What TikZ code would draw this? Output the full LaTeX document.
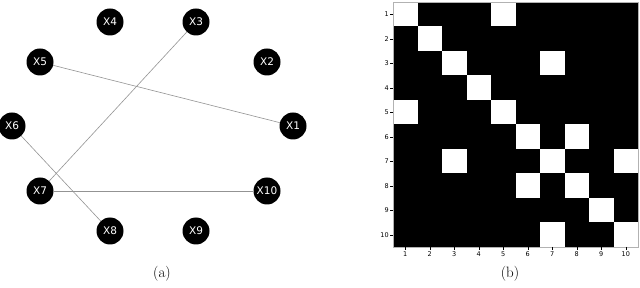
\documentclass[tikz,border=0pt]{standalone}
\usepackage{fontspec}
\newfontfamily\plotfont{DejaVu Sans}
\begin{document}
\begin{tikzpicture}[x=1pt,y=-1pt,
  vtx/.style={circle,fill=black,minimum size=27pt,inner sep=0pt,text=white,font=\plotfont\fontsize{10.5}{11}\selectfont},
  edge/.style={draw=gray!85,line width=0.6pt},
  tick/.style={font=\plotfont\fontsize{6.5}{7}\selectfont,inner sep=1.2pt},
  captxt/.style={font=\fontsize{15}{16}\selectfont}]
\useasboundingbox (0,0) rectangle (640,288);
% graph
\node[vtx] (x4) at (110,22) {X4};
\node[vtx] (x3) at (196,22) {X3};
\node[vtx] (x5) at (40,62) {X5};
\node[vtx] (x2) at (267,62) {X2};
\node[vtx] (x6) at (12,126) {X6};
\node[vtx] (x1) at (293,126) {X1};
\node[vtx] (x7) at (40,191) {X7};
\node[vtx] (x10) at (267,191) {X10};
\node[vtx] (x8) at (110,231) {X8};
\node[vtx] (x9) at (196,231) {X9};
\draw[edge] (x5) -- (x1);
\draw[edge] (x3) -- (x7);
\draw[edge] (x6) -- (x8);
\draw[edge] (x7) -- (x10);
\node[captxt] (capa) at (162,274) {(a)};
% matrix
\def\xo{393}\def\yo{2}\def\cs{24.5}
\fill[black] (\xo,\yo) rectangle (\xo+10*\cs,\yo+10*\cs);
\foreach \r/\c in {1/1,1/5,2/2,3/3,3/7,4/4,5/1,5/5,6/6,6/8,7/3,7/7,7/10,8/6,8/8,9/9,10/7,10/10}
  \fill[white] (\xo+\c*\cs-\cs,\yo+\r*\cs-\cs) rectangle (\xo+\c*\cs,\yo+\r*\cs);
\draw[gray!60,line width=0.4pt] (\xo,\yo) rectangle (\xo+10*\cs,\yo+10*\cs);
\foreach \i in {1,...,10} {
  \draw[black,line width=0.3pt] (\xo,\yo+\i*\cs-\cs/2) -- ++(-3,0)
     node[tick,anchor=east] (yl\i) {\i};
  \draw[black,line width=0.3pt] (\xo+\i*\cs-\cs/2,\yo+10*\cs) -- ++(0,3)
     node[tick,anchor=north] (xl\i) {\i};
}
\node[captxt] (capb) at (510,274) {(b)};
\end{tikzpicture}
\end{document}
